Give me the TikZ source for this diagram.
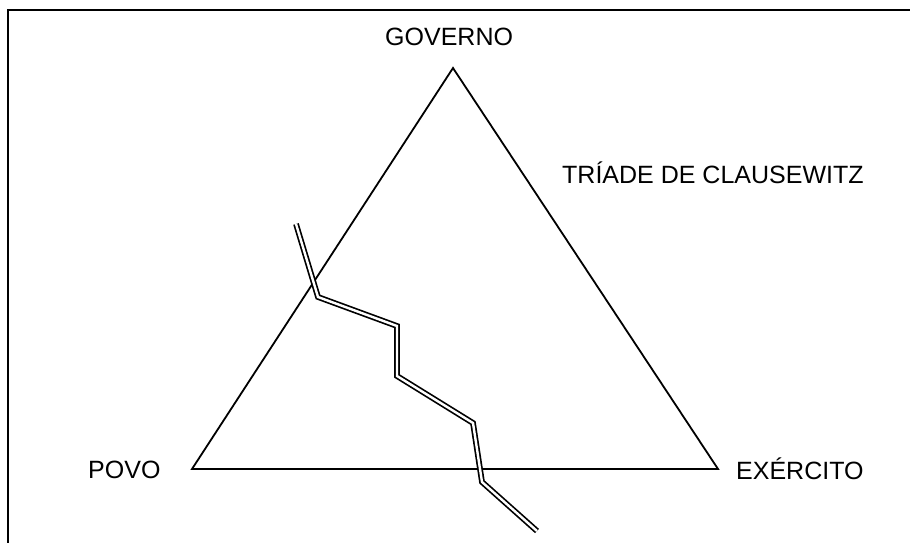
\documentclass[tikz,border=0pt]{standalone}
\usepackage{fontspec}
\setmainfont{Liberation Sans}
\usepackage{tikz}
\usetikzlibrary{positioning}

\tikzset{
    label text/.style={inner sep=0pt, anchor=base west, font=\fontsize{25}{30}\selectfont},
    crack/.style={double=white, draw=black, line width=1.7pt, double distance=2.4pt, line join=miter}
}

\begin{document}
\begin{tikzpicture}[x=1pt, y=-1pt]
            \path[use as bounding box] (0,0) rectangle (910,543);
            % frame
            \draw[line width=2.8pt] (8,543) -- (8,10) -- (910,10);

            \coordinate (g) at (453,68);
            \coordinate (p) at (192,469);
            \coordinate (e) at (718,469);
            \draw[line width=1.8pt, line join=miter] (g) -- (e) -- (p) -- cycle;

            \node[label text] (governo) at (385,46) {GOVERNO};
            \node[label text] (triade) at (562,183) {TRÍADE DE CLAUSEWITZ};
            \node[label text] (povo) at (88,478) {POVO};
            \node[label text] (exercito) at (736,479) {EXÉRCITO};

            % fissure
            \coordinate (c0) at (296,224);
            \coordinate (c1) at (318,297);
            \coordinate (c2) at (397,326);
            \coordinate (c3) at (397,376);
            \coordinate (c4) at (473,423);
            \coordinate (c5) at (482,482);
            \coordinate (c6) at (537,531);
            \draw[crack] (c0) -- (c1) -- (c2) -- (c3) -- (c4) -- (c5) -- (c6);
        \end{tikzpicture}
\end{document}
